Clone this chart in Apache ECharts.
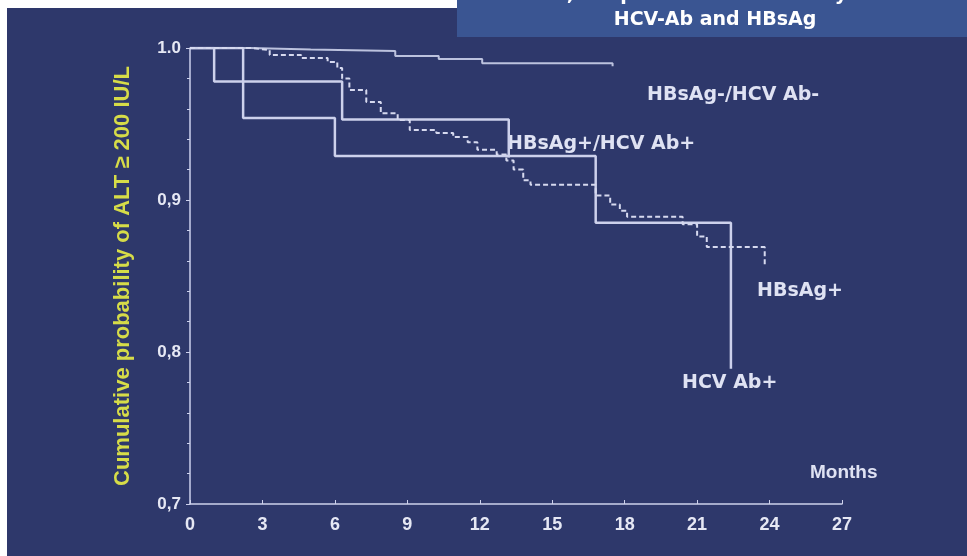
<!DOCTYPE html>
<html>
<head>
<meta charset="utf-8">
<script src="https://cdn.jsdelivr.net/npm/echarts@6/dist/echarts.min.js"></script>
<style>
html,body{margin:0;padding:0;background:#ffffff;}
#chart{width:967px;height:556px;}
</style>
</head>
<body>
<div id="chart"></div>
<script>
// ---- data (months, cumulative probability) ----
const xTicks = [0, 3, 6, 9, 12, 15, 18, 21, 24, 27];
const yTickLabels = {"0.7": "0,7", "0.8": "0,8", "0.9": "0,9", "1": "1.0"};

const negNegMonths = [0, 2.5, 5, 8.5, 10.3, 12.1, 17.5];
const negNegValues = [1.0, 0.999, 0.998, 0.9947, 0.9928, 0.990, 0.988];

const posPosMonths = [0, 1.0, 6.3, 13.2];
const posPosValues = [1.0, 0.978, 0.953, 0.928];

const hcvMonths = [0, 2.2, 6.0, 16.8, 22.4];
const hcvValues = [1.0, 0.954, 0.929, 0.885, 0.789];

const hbsMonths = [0, 2.5, 3.3, 4.6, 5.7, 6.1, 6.3, 6.6, 7.3, 7.9, 8.6, 9.1, 10.2, 10.9, 11.5, 11.9, 12.7, 13.1, 13.4, 13.8, 14.1, 16.8, 17.4, 17.8, 18.1, 20.4, 21.0, 21.4, 23.8];
const hbsValues = [1.0, 0.9987, 0.9954, 0.9934, 0.9908, 0.9868, 0.980, 0.9724, 0.9645, 0.957, 0.9526, 0.946, 0.944, 0.9414, 0.938, 0.933, 0.930, 0.926, 0.920, 0.913, 0.910, 0.903, 0.897, 0.893, 0.889, 0.884, 0.876, 0.869, 0.856];

const curveLabels = ["HBsAg-/HCV Ab-", "HBsAg+/HCV Ab+", "HBsAg+", "HCV Ab+"];
const titleLines = ["in 1,200 patients stratified by both", "HCV-Ab and HBsAg"];

function pairs(xs, ys){ return xs.map((x,i)=>[x, ys[i]]); }

const lineColor = '#cdd1ec';
const font = '"Liberation Sans", Arial, sans-serif';
const wide = '"DejaVu Sans", sans-serif';
const labelFill = '#dfe2f3';

const chart = echarts.init(document.getElementById('chart'));
chart.setOption({
  animation: false,
  backgroundColor: '#ffffff',
  graphic: [
    {type:'rect', z:-10, shape:{x:7, y:8, width:960, height:548}, style:{fill:'#2e386b'}},
    {type:'rect', z:-5, shape:{x:457, y:0, width:510, height:37}, style:{fill:'#3a5592'}},
    {type:'text', x:715, y:-5, style:{text:titleLines[0], fill:'#ffffff', font:'bold 19px '+wide, align:'center', verticalAlign:'middle'}},
    {type:'text', x:715, y:20, style:{text:titleLines[1], fill:'#ffffff', font:'bold 19px '+wide, align:'center', verticalAlign:'middle'}},
    {type:'text', x:647, y:95, style:{text:curveLabels[0], fill:labelFill, font:'bold 19px '+wide, verticalAlign:'middle'}},
    {type:'text', x:507, y:144, style:{text:curveLabels[1], fill:labelFill, font:'bold 19px '+wide, verticalAlign:'middle'}},
    {type:'text', x:757, y:291, style:{text:curveLabels[2], fill:labelFill, font:'bold 19px '+wide, verticalAlign:'middle'}},
    {type:'text', x:682, y:383, style:{text:curveLabels[3], fill:labelFill, font:'bold 19px '+wide, verticalAlign:'middle'}},
    {type:'text', x:810, y:473, style:{text:'Months', fill:labelFill, font:'bold 19px '+font, verticalAlign:'middle'}}
  ],
  grid: {left:190, right:125, top:48, bottom:52, containLabel:false},
  xAxis: {
    type:'value', min:0, max:27, interval:3,
    axisLine:{show:true, lineStyle:{color:lineColor, width:1.5}},
    axisTick:{show:true, length:4, inside:true, lineStyle:{color:lineColor}},
    axisLabel:{color:'#e6e8f4', fontFamily:font, fontWeight:'bold', fontSize:18, margin:12},
    splitLine:{show:false}
  },
  yAxis: {
    type:'value', min:0.7, max:1.0, interval:0.1,
    name:'Cumulative probability of ALT ≥ 200 IU/L',
    nameLocation:'middle', nameGap:56, nameRotate:90,
    nameTextStyle:{color:'#d6dc48', fontFamily:font, fontWeight:'bold', fontSize:22},
    axisLine:{show:true, lineStyle:{color:lineColor, width:1.5}},
    axisTick:{show:true, length:4, lineStyle:{color:lineColor}},
    minorTick:{show:true, splitNumber:5, length:3, lineStyle:{color:lineColor}},
    axisLabel:{color:'#e6e8f4', fontFamily:font, fontWeight:'bold', fontSize:17, margin:9,
      formatter: v => yTickLabels[String(Math.round(v*10)/10)] || ''},
    splitLine:{show:false}
  },
  series: [
    {name:curveLabels[0], type:'line', step:'end', symbol:'none', data:pairs(negNegMonths, negNegValues),
      lineStyle:{color:'#bcc2de', width:2}},
    {name:curveLabels[1], type:'line', step:'end', symbol:'none', data:pairs(posPosMonths, posPosValues),
      lineStyle:{color:lineColor, width:2.5}},
    {name:curveLabels[3], type:'line', step:'end', symbol:'none', data:pairs(hcvMonths, hcvValues),
      lineStyle:{color:lineColor, width:2.5}},
    {name:curveLabels[2], type:'line', step:'end', symbol:'none', data:pairs(hbsMonths, hbsValues),
      lineStyle:{color:'#d6d9ef', width:2, type:[5,3]}}
  ]
});
</script>
</body>
</html>
